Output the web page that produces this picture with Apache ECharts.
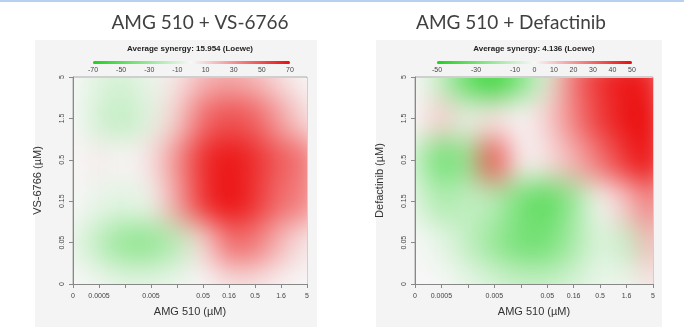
<!DOCTYPE html>
<html>
<head>
<meta charset="utf-8">
<script src="https://cdn.jsdelivr.net/npm/echarts@6/dist/echarts.min.js"></script>
<style>
html, body { margin: 0; padding: 0; background: #fff; }
#wrap { position: relative; width: 684px; height: 327px; overflow: hidden; }
#main { position: absolute; left: 0; top: 0; width: 684px; height: 327px; }
.clip { position: absolute; overflow: hidden; }
.heat { position: absolute; filter: blur(14px); }
</style>
</head>
<body>
<div id="wrap">
  <div id="main"></div>
  <div class="clip" id="clip0"><div class="heat" id="heat0"></div></div>
  <div class="clip" id="clip1"><div class="heat" id="heat1"></div></div>
</div>
<script>
// doses on the axes (some labels are skipped in the original plot)
var xDoseLabels = ['0', '0.0005', '', '0.005', '', '0.05', '0.16', '0.5', '1.6', '5'];
var yDoseLabels = ['0', '0.05', '0.15', '0.5', '1.5', '5'];

var legendTicksVS = [-70, -50, -30, -10, 10, 30, 50, 70];
var legendTicksDef = [-50, -30, -10, 0, 10, 20, 30, 40, 50];

// Loewe synergy, rows = second drug dose from 0 (bottom) to 5 (top), cols = AMG 510 dose
var synergyVS = [
    [0, -3, -7, -7, -4, 0, 8, 8, 2, 0],
    [-4, -18, -32, -32, -20, 8, 42, 38, 18, 5],
    [0, -5, -8, -3, 25, 58, 70, 58, 40, 35],
    [0, 4, 0, 6, 30, 60, 68, 60, 45, 38],
    [0, -12, -18, -6, 12, 42, 50, 45, 25, 8],
    [0, -8, -12, -4, 5, 20, 25, 20, 8, 0]
];
var synergyDef = [
    [0, 0, -4, -8, -12, -12, -8, -3, -3, 5],
    [0, -4, -12, -22, -30, -30, -18, -5, -12, 15],
    [-5, -18, -12, -15, -30, -36, -22, 0, 12, 28],
    [-10, -32, -22, 38, 0, 5, 15, 28, 42, 50],
    [0, 10, -5, 6, 0, 8, 25, 40, 48, 50],
    [0, -12, -35, -45, -28, -5, 28, 42, 48, 45]
];

var scaleColors = ['#1ed21e', '#f7f7f7', '#ec0c0c'];
var neutral = '#f7f7f7';

var panels = [
    {
        title: 'AMG 510 + VS-6766', titleX: 200,
        sub: 'Average synergy: 15.954 (Loewe)',
        yName: 'VS-6766 (\u00b5M)',
        box: { x: 73, y: 77, w: 234, h: 207 },
        bg: { x: 35, w: 282 },
        values: synergyVS, range: [-70, 70], ticks: legendTicksVS,
        legend: { x: 93, w: 197 }
    },
    {
        title: 'AMG 510 + Defactinib', titleX: 511,
        sub: 'Average synergy: 4.136 (Loewe)',
        yName: 'Defactinib (\u00b5M)',
        box: { x: 415, y: 77, w: 238, h: 207 },
        bg: { x: 376, w: 286 },
        values: synergyDef, range: [-50, 50], ticks: legendTicksDef,
        legend: { x: 437, w: 195 }
    }
];

var labelFont = 'Liberation Sans';
var grids = [], xAxes = [], yAxes = [], visualMaps = [];
var graphics = [
    { type: 'rect', z: -100, shape: { x: 0, y: 0, width: 684, height: 2 }, style: { fill: '#b8d0f0' } }
];

panels.forEach(function (p, k) {
    var b = p.box;
    var main = grids.length;
    graphics.push({ type: 'rect', z: -100, shape: { x: p.bg.x, y: 40, width: p.bg.w, height: 287 }, style: { fill: '#f4f4f4' } });
    graphics.push({ type: 'text', x: p.titleX, y: 23, style: { text: p.title, font: '19px Lato', fill: '#404040', textAlign: 'center', textVerticalAlign: 'middle' } });
    graphics.push({ type: 'text', x: b.x + b.w / 2, y: 49, style: { text: p.sub, font: 'bold 8px "Liberation Sans"', fill: '#222', textAlign: 'center', textVerticalAlign: 'middle' } });

    // plot box
    grids.push({ left: b.x, top: b.y, width: b.w, height: b.h, show: true, borderColor: '#aaa', borderWidth: 1, backgroundColor: 'transparent' });
    xAxes.push({
        gridIndex: main, type: 'value', min: 0, max: 9, interval: 1,
        axisLine: { lineStyle: { color: '#888' } },
        axisTick: { length: 4, lineStyle: { color: '#888' } },
        splitLine: { show: false },
        axisLabel: { fontSize: 7, color: '#444', fontFamily: labelFont, margin: 9,
            formatter: function (v) { return xDoseLabels[v]; } },
        name: 'AMG 510 (\u00b5M)', nameLocation: 'middle', nameGap: 22,
        nameTextStyle: { fontSize: 11, color: '#333', fontFamily: labelFont }
    });
    yAxes.push({
        gridIndex: main, type: 'value', min: 0, max: 5, interval: 1,
        axisLine: { lineStyle: { color: '#888' } },
        axisTick: { length: 4, lineStyle: { color: '#888' } },
        splitLine: { show: false },
        axisLabel: { fontSize: 7, color: '#444', fontFamily: labelFont, margin: 7, rotate: 90,
            formatter: function (v) { return yDoseLabels[v]; } },
        name: p.yName, nameLocation: 'middle', nameGap: 30, nameRotate: 90,
        nameTextStyle: { fontSize: 11, color: '#333', fontFamily: labelFont }
    });

    // colour key with its tick labels
    visualMaps.push({
        type: 'continuous', orient: 'horizontal', seriesIndex: [],
        left: p.legend.x, top: 61, itemWidth: 3, itemHeight: p.legend.w, padding: 0,
        min: p.range[0], max: p.range[1], calculable: false, hoverLink: false, text: null,
        inRange: { color: scaleColors }
    });
    grids.push({ left: p.legend.x, top: 63, width: p.legend.w, height: 1, show: false });
    var ticks = p.ticks;
    xAxes.push({
        gridIndex: main + 1, type: 'value', min: p.range[0], max: p.range[1], interval: 10,
        axisLine: { show: false }, axisTick: { show: false }, splitLine: { show: false },
        axisLabel: { fontSize: 7, color: '#444', fontFamily: labelFont, margin: 3,
            formatter: function (v) { return ticks.indexOf(v) >= 0 ? String(v) : ''; } }
    });
    yAxes.push({ gridIndex: main + 1, type: 'value', show: false });
});

var chart = echarts.init(document.getElementById('main'));
chart.setOption({
    animation: false,
    backgroundColor: '#fff',
    graphic: { elements: graphics },
    grid: grids,
    xAxis: xAxes,
    yAxis: yAxes,
    visualMap: visualMaps
});

// smoothed synergy surfaces, one clipped layer per panel
var pad = 40;
panels.forEach(function (p, k) {
    var b = p.box;
    var clip = document.getElementById('clip' + k);
    clip.style.left = (b.x + 1) + 'px';
    clip.style.top = (b.y + 1) + 'px';
    clip.style.width = (b.w - 1) + 'px';
    clip.style.height = (b.h - 1) + 'px';
    var el = document.getElementById('heat' + k);
    el.style.left = -(pad + 1) + 'px';
    el.style.top = -(pad + 1) + 'px';
    el.style.width = (b.w + 2 * pad) + 'px';
    el.style.height = (b.h + 2 * pad) + 'px';

    var cw = b.w / (xDoseLabels.length - 1), ch = b.h / (yDoseLabels.length - 1);
    var cells = [];
    p.values.forEach(function (row, j) {
        row.forEach(function (v, i) { cells.push([i, j, v]); });
    });
    var heat = echarts.init(el);
    heat.setOption({
        animation: false,
        backgroundColor: neutral,
        grid: { left: pad - cw / 2, top: pad - ch / 2, width: b.w + cw, height: b.h + ch },
        xAxis: { type: 'category', data: xDoseLabels.map(function (d, i) { return i; }), show: false },
        yAxis: { type: 'category', data: yDoseLabels.map(function (d, i) { return i; }), show: false },
        visualMap: { show: false, min: p.range[0], max: p.range[1], inRange: { color: scaleColors } },
        series: [{ type: 'heatmap', data: cells }]
    });
});
</script>
</body>
</html>
